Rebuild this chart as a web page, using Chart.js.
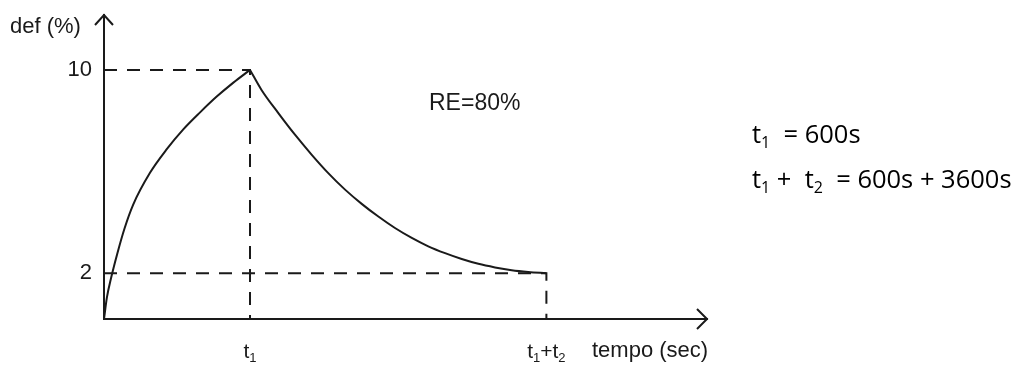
<!doctype html>
<html lang="en">
  <head>
    <meta charset="utf-8">
    <style>
      * { margin: 0; padding: 0; }
      body { background: #fff; }
      .chartBox { width: 1016px; height: 365px; position: relative; }
    </style>
  </head>
  <body>
    <div class="chartBox">
      <canvas id="myChart"></canvas>
    </div>

    <script src="https://cdn.jsdelivr.net/npm/chart.js/dist/chart.umd.min.js"></script>
    <script>
    // time is in units of t1 (the x axis is only schematic)
    const riseT   = [0, 0.02, 0.05, 0.09, 0.14, 0.2, 0.315, 0.43, 0.543, 0.658, 0.772, 0.886, 1];
    const riseDef = [0.2, 1.05, 1.85, 2.75, 3.75, 4.7, 5.95, 6.88, 7.66, 8.33, 8.95, 9.5, 10];
    const decayT   = [1, 1.08, 1.194, 1.308, 1.423, 1.536, 1.651, 1.765, 1.879, 1.993, 2.108, 2.221, 2.336, 2.45, 2.564, 2.678, 2.792, 2.906, 3.03];
    const decayDef = [10, 9.2, 8.3, 7.45, 6.66, 5.94, 5.29, 4.73, 4.23, 3.78, 3.39, 3.06, 2.79, 2.56, 2.37, 2.23, 2.12, 2.05, 2.0];

    const yTicks = [2, 10];
    const xTicks = [1, 3.03];
    // label pieces: [text, isSubscript]
    const xTickLabels = [
      [['t', 0], ['1', 1]],
      [['t', 0], ['1', 1], ['+t', 0], ['2', 1]]
    ];

    const yMin = 0.2, yMax = 12.16;
    const xMax = 4.13;

    const ink = '#1a1a1a';
    const toPts = (xs, ys) => xs.map((x, i) => ({x: x, y: ys[i]}));

    const data = {
      datasets: [
        { // dashed guide to peak
          data: [{x: 0, y: yTicks[1]}, {x: xTicks[0], y: yTicks[1]}, {x: xTicks[0], y: yMin}],
          borderColor: ink, borderWidth: 2, borderDash: [13, 10], pointRadius: 0, tension: 0
        },
        { // dashed guide to end
          data: [{x: 0, y: yTicks[0]}, {x: xTicks[1], y: yTicks[0]}, {x: xTicks[1], y: yMin}],
          borderColor: ink, borderWidth: 2, borderDash: [13, 10], pointRadius: 0, tension: 0
        },
        {
          data: toPts(riseT, riseDef),
          borderColor: ink, borderWidth: 2, pointRadius: 0, cubicInterpolationMode: 'monotone'
        },
        {
          data: toPts(decayT, decayDef),
          borderColor: ink, borderWidth: 2, pointRadius: 0, cubicInterpolationMode: 'monotone'
        }
      ]
    };

    // draws text made of normal + subscript pieces, returns width
    function subText(ctx, parts, x, y, size, family, draw) {
      let w = 0;
      parts.forEach(p => {
        ctx.font = (p[1] ? Math.round(size * 0.64) : size) + 'px ' + family;
        if (draw) ctx.fillText(p[0], x + w, p[1] ? y + size * 0.18 : y);
        w += ctx.measureText(p[0]).width;
      });
      return w;
    }

    // arrowheads + free text
    const extras = {
      id: 'extras',
      afterDraw(chart) {
        const {ctx, chartArea: {top, bottom, left, right}, scales: {x}} = chart;
        const sans = '"Liberation Sans", Arial, sans-serif';
        ctx.save();
        ctx.strokeStyle = ink;
        ctx.lineWidth = 2;
        ctx.beginPath();
        ctx.moveTo(left - 9, top + 10); ctx.lineTo(left, top); ctx.lineTo(left + 9, top + 10);
        ctx.moveTo(right - 10, bottom - 10); ctx.lineTo(right, bottom); ctx.lineTo(right - 10, bottom + 10);
        ctx.stroke();

        ctx.fillStyle = ink;
        ctx.textAlign = 'left';
        ctx.textBaseline = 'alphabetic';
        ctx.font = '22px ' + sans;
        ctx.fillText('def (%)', 10, 33);
        ctx.fillText('tempo (sec)', 592, 357);
        ctx.font = '23px ' + sans;
        ctx.fillText('RE=80%', 429, 110);

        // x tick labels with subscripts
        xTicks.forEach((v, i) => {
          const w = subText(ctx, xTickLabels[i], 0, 0, 21, sans, false);
          subText(ctx, xTickLabels[i], x.getPixelForValue(v) - w / 2, 358, 21, sans, true);
        });

        // right-hand notes
        ctx.fillStyle = '#000';
        const os = '"Open Sans", sans-serif';
        subText(ctx, [['t', 0], ['1', 1], ['  = 600s', 0]], 752, 143, 25.5, os, true);
        subText(ctx, [['t', 0], ['1', 1], [' +  t', 0], ['2', 1], ['  = 600s + 3600s', 0]], 752, 188, 25.5, os, true);
        ctx.restore();
      }
    };

    const config = {
      type: 'line',
      data,
      options: {
        responsive: true,
        maintainAspectRatio: false,
        animation: false,
        layout: { padding: { left: 0, right: 309, top: 15, bottom: 0 } },
        scales: {
          x: {
            type: 'linear', min: 0, max: xMax,
            afterBuildTicks: (s) => { s.ticks = xTicks.map(v => ({value: v})); },
            afterFit: (s) => { s.height = 46; s.paddingLeft = 0; s.paddingRight = 0; },
            grid: { display: false, drawTicks: false },
            border: { display: true, color: ink, width: 2 },
            ticks: { display: false }
          },
          y: {
            type: 'linear', min: yMin, max: yMax,
            afterBuildTicks: (s) => { s.ticks = yTicks.map(v => ({value: v})); },
            afterFit: (s) => { s.width = 104; s.paddingTop = 0; s.paddingBottom = 0; },
            grid: { display: false, drawTicks: false },
            border: { display: true, color: ink, width: 2 },
            ticks: {
              padding: 12, color: ink,
              font: { family: '"Liberation Sans", Arial, sans-serif', size: 22 }
            }
          }
        },
        plugins: { legend: { display: false }, tooltip: { enabled: false } }
      },
      plugins: [extras]
    };

    const myChart = new Chart(document.getElementById('myChart'), config);
    </script>
  </body>
</html>
